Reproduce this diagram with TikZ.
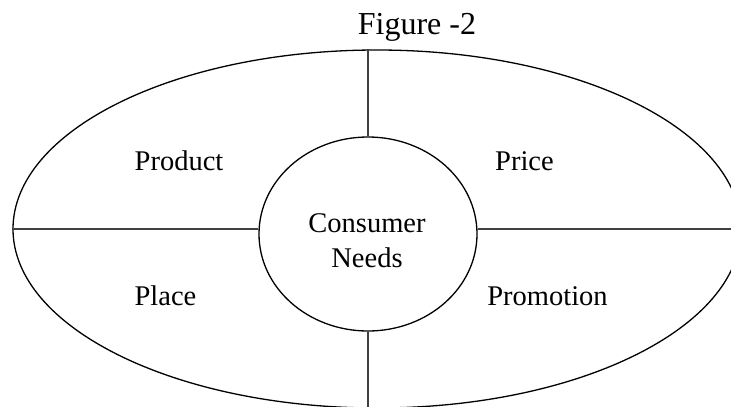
\documentclass[tikz,border=0pt]{standalone}
\usepackage{fontspec}
\setmainfont{Liberation Serif}
\usetikzlibrary{shapes.geometric}
\begin{document}
\begin{tikzpicture}[x=1pt,y=-1pt,
  ring/.style={draw=black,line width=1.3pt,ellipse,inner sep=0pt},
  divider/.style={draw=black!75,line width=1.3pt},
  lbl/.style={font=\fontsize{28.5}{34}\selectfont,anchor=base,inner sep=0pt}]
\useasboundingbox (0,0) rectangle (731,407);
\clip (0,0) rectangle (731,407);
\fill[white] (0,0) rectangle (731,407);
\node[ring,minimum width=728pt,minimum height=358pt] (outer) at (377,229) {};
\node[ring,minimum width=218pt,minimum height=194pt] (inner) at (368,234) {};
\draw[divider] (inner.north) -- (inner.north |- outer.north);
\draw[divider] (inner.south) -- (inner.south |- outer.south);
\draw[divider] (outer.west) -- (outer.west -| inner.west);
\draw[divider] (outer.east -| inner.east) -- (outer.east);
\node[lbl,font=\fontsize{32}{38}\selectfont] (title) at (417,34) {Figure -2};
\node[lbl] (product) at (179,170) {Product};
\node[lbl] (price) at (524.5,170) {Price};
\node[lbl] (place) at (165.5,305) {Place};
\node[lbl] (promotion) at (547.5,305) {Promotion};
\node[lbl] (consumer) at (367,232) {Consumer};
\node[lbl] (needs) at (367,267) {Needs};
\end{tikzpicture}
\end{document}
